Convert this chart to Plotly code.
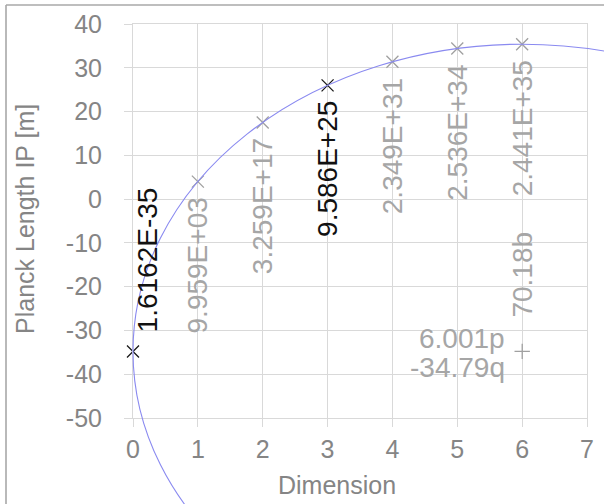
import numpy as np
import plotly.graph_objects as go

# Scale values at each dimension (plotted as log10 of the value)
dimensions = [0, 1, 2, 3, 4, 5, 6]
scale_values = [1.6162e-35, 9.959e3, 3.259e17, 9.586e25, 2.349e31, 2.536e34, 2.441e35]
scale_labels = ["1.6162E-35", "9.959E+03", "3.259E+17", "9.586E+25",
                "2.349E+31", "2.536E+34", "2.441E+35"]
highlighted = [True, False, False, True, False, False, False]

# Fitted ellipse: centre (p, q), semi-axes a (x) and b (y)
ellipse_p = 6.001
ellipse_q = -34.79
ellipse_a = 6.001
ellipse_b = 70.18

x_ticks = [0, 1, 2, 3, 4, 5, 6, 7]
y_ticks = [-50, -40, -30, -20, -10, 0, 10, 20, 30, 40]

W, H = 604, 504
FONT = "Liberation Sans, Arial, sans-serif"
GREY_TXT = "#858585"
GREY_LBL = "#a6a6a6"
GRID = "#d9d9d9"
CURVE = "#8a8af0"

# plot box in pixels
PX_L, PX_R, PX_T, PX_B = 133, 587, 24, 418
X_MIN, X_MAX = 0, 7
Y_MIN, Y_MAX = -50, 40

x_unit = (PX_R - PX_L) / (X_MAX - X_MIN)
y_unit = (PX_B - PX_T) / (Y_MAX - Y_MIN)
# full-figure axes sharing the same scale, so the curve may run past the grid
x2_range = [X_MIN - PX_L / x_unit, X_MAX + (W - PX_R) / x_unit]
y2_range = [Y_MIN - (H - PX_B) / y_unit, Y_MAX + PX_T / y_unit]

log_vals = np.log10(scale_values)

fig = go.Figure()

for hi, color in [(False, "#a0a0a0"), (True, "#1a1a1a")]:
    xs = [d for d, h in zip(dimensions, highlighted) if h == hi]
    ys = [v for v, h in zip(log_vals, highlighted) if h == hi]
    fig.add_trace(go.Scatter(
        x=xs, y=ys, mode="markers", cliponaxis=False, hoverinfo="skip",
        marker=dict(symbol="x-thin", size=12, line=dict(color=color, width=1.3)),
        showlegend=False))

# ellipse centre
fig.add_trace(go.Scatter(
    x=[ellipse_p], y=[ellipse_q], mode="markers", hoverinfo="skip",
    marker=dict(symbol="cross-thin", size=11, line=dict(color="#a0a0a0", width=1.3)),
    showlegend=False))

# placeholder trace for the overlay subplot
fig.add_trace(go.Scatter(x=[None], y=[None], xaxis="x2", yaxis="y2",
                         showlegend=False, hoverinfo="skip"))

fig.add_shape(type="circle", xref="x2", yref="y2",
              x0=ellipse_p - ellipse_a, x1=ellipse_p + ellipse_a,
              y0=ellipse_q - ellipse_b, y1=ellipse_q + ellipse_b,
              line=dict(color=CURVE, width=1.1), layer="above")

annotations = []
for i, (d, v, lbl, hi) in enumerate(zip(dimensions, log_vals, scale_labels, highlighted)):
    if i == 0:
        xs, ys = 14, 91
    else:
        xs, ys = 0, -84
    annotations.append(dict(
        x=d, y=v, xref="x", yref="y", text=lbl, showarrow=False,
        textangle=-90, xanchor="center", yanchor="middle",
        xshift=xs, yshift=ys,
        font=dict(family=FONT, size=28, color="#111111" if hi else GREY_LBL)))

annotations += [
    dict(x=ellipse_p, y=ellipse_q, xref="x", yref="y", text=f"{ellipse_p:.3f}p",
         showarrow=False, xanchor="right", yanchor="middle", xshift=-15, yshift=13,
         font=dict(family=FONT, size=28, color=GREY_LBL)),
    dict(x=ellipse_p, y=ellipse_q, xref="x", yref="y", text=f"{ellipse_q:.2f}q",
         showarrow=False, xanchor="right", yanchor="middle", xshift=-15, yshift=-16,
         font=dict(family=FONT, size=28, color=GREY_LBL)),
    dict(x=ellipse_p, y=ellipse_q, xref="x", yref="y", text=f"{ellipse_b:.2f}b",
         showarrow=False, textangle=-90, xanchor="center", yanchor="middle",
         yshift=77, font=dict(family=FONT, size=28, color=GREY_LBL)),
    dict(x=25 / W, y=1 - 219 / H, xref="paper", yref="paper",
         text="Planck Length IP [m]", showarrow=False, textangle=-90,
         xanchor="center", yanchor="middle",
         font=dict(family=FONT, size=25, color=GREY_TXT)),
    dict(x=337 / W, y=1 - 485 / H, xref="paper", yref="paper",
         text="Dimension", showarrow=False, xanchor="center", yanchor="middle",
         font=dict(family=FONT, size=25, color=GREY_TXT)),
]

# outer chart frame (top and left edges)
fig.add_shape(type="line", xref="paper", yref="paper",
              x0=6 / W, x1=1, y0=1 - 5 / H, y1=1 - 5 / H,
              line=dict(color="#a8a8a8", width=1.6))
fig.add_shape(type="line", xref="paper", yref="paper",
              x0=6 / W, x1=6 / W, y0=0, y1=1 - 5 / H,
              line=dict(color="#a8a8a8", width=1.6))

axis_common = dict(showgrid=True, gridcolor=GRID, gridwidth=1, zeroline=False,
                   showline=True, linecolor=GRID, linewidth=1, mirror=True,
                   ticks="outside", ticklen=8, tickcolor=GRID, tickwidth=1,
                   automargin=False,
                   tickfont=dict(family=FONT, size=25, color=GREY_TXT))

fig.update_layout(
    width=W, height=H,
    margin=dict(l=0, r=0, t=0, b=0, pad=0, autoexpand=False),
    paper_bgcolor="white", plot_bgcolor="rgba(0,0,0,0)",
    xaxis=dict(domain=[PX_L / W, PX_R / W], range=[X_MIN, X_MAX],
               tickvals=x_ticks, ticktext=[str(t) for t in x_ticks],
               ticklabelstandoff=1, **axis_common),
    yaxis=dict(domain=[1 - PX_B / H, 1 - PX_T / H], range=[Y_MIN, Y_MAX],
               tickvals=y_ticks, ticktext=[str(t) for t in y_ticks],
               ticklabelstandoff=17, **axis_common),
    xaxis2=dict(domain=[0, 1], range=x2_range, anchor="y2", visible=False,
                automargin=False),
    yaxis2=dict(domain=[0, 1], range=y2_range, anchor="x2", visible=False,
                automargin=False),
    annotations=annotations,
    showlegend=False,
)

fig.write_html("out.html")
